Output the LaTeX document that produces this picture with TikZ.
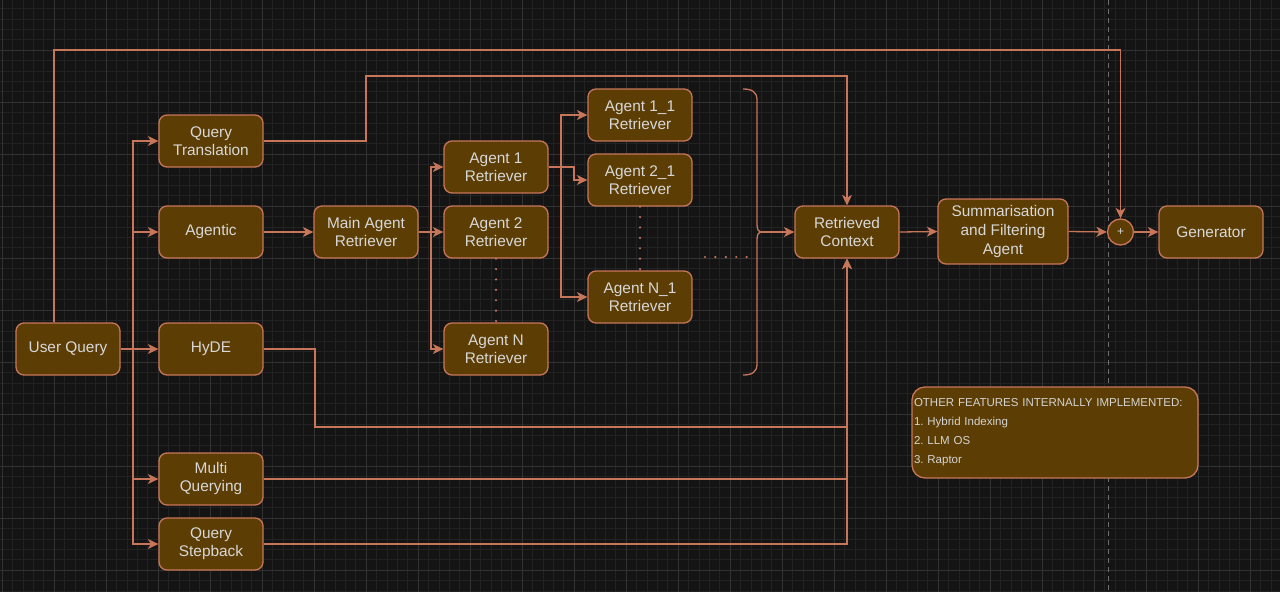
\documentclass[tikz,border=0pt]{standalone}
\usepackage{fontspec}
\setmainfont{Liberation Sans}
\usetikzlibrary{arrows.meta}
\definecolor{bg}{HTML}{141414}
\definecolor{gmin}{HTML}{222222}
\definecolor{gmaj}{HTML}{323232}
\definecolor{boxfill}{HTML}{5C3D04}
\definecolor{edge}{HTML}{C8765A}
\definecolor{txt}{HTML}{D8D8D8}
\definecolor{dashc}{HTML}{6E6E6E}
\frenchspacing
\begin{document}
\begin{tikzpicture}[x=1pt,y=-1pt,
  box/.style={draw=edge, fill=boxfill, line width=1.3pt, rounded corners=8pt,
    minimum width=104pt, minimum height=52pt, align=center, text=txt,
    font=\fontsize{15.4}{18}\selectfont, inner sep=0pt},
  conn/.style={draw=edge, line width=1.3pt},
  arr/.style={conn, -{Stealth[length=10.5pt,width=10pt,inset=3pt]}},
  dotline/.style={draw=edge, line width=2.4pt, line cap=round, dash pattern=on 0pt off 10.4pt},
  mingrid/.style={draw=gmin, line width=0.6pt},
  majgrid/.style={draw=gmaj, line width=0.8pt},
]
\useasboundingbox (0,0) rectangle (1280,592);
\fill[bg] (0,0) rectangle (1280,592);
% grid
\foreach \i in {0,...,122} {\draw[mingrid] ({2+10.4*\i},0) -- ({2+10.4*\i},592);}
\foreach \i in {1,...,57} {\draw[mingrid] (0,{-2+10.4*\i}) -- (1280,{-2+10.4*\i});}
\foreach \i in {0,...,24} {\draw[majgrid] ({2+52*\i},0) -- ({2+52*\i},592);}
\foreach \i in {1,...,11} {\draw[majgrid] (0,{-2+52*\i}) -- (1280,{-2+52*\i});}
% dashed vertical guide
\draw[dashc, line width=1pt, dash pattern=on 5pt off 4pt] (1108,0) -- (1108,592);

% nodes
\node[box] (uq) at (68,349) {User Query};
\node[box] (qt) at (211,141) {Query\\Translation};
\node[box] (ag) at (211,232) {Agentic};
\node[box] (hyde) at (211,349) {HyDE};
\node[box] (mq) at (211,479) {Multi\\Querying};
\node[box] (qs) at (211,544) {Query\\Stepback};
\node[box] (mar) at (366,232) {Main Agent\\Retriever};
\node[box] (a1) at (496,167) {Agent 1\\Retriever};
\node[box] (a2) at (496,232) {Agent 2\\Retriever};
\node[box] (an) at (496,349) {Agent N\\Retriever};
\node[box] (a11) at (640,115) {Agent 1\_1\\Retriever};
\node[box] (a21) at (640,180) {Agent 2\_1\\Retriever};
\node[box] (an1) at (640,297) {Agent N\_1\\Retriever};
\node[box] (rc) at (847,232) {Retrieved\\Context};
\node[box, minimum width=130pt, minimum height=65pt, font=\fontsize{15.4}{19}\selectfont] (sum) at (1003,231.5) {Summarisation\\and Filtering\\Agent};
\node[circle, draw=edge, fill=boxfill, line width=1.3pt, minimum size=26pt, inner sep=0pt, text=txt, font=\fontsize{12}{12}\selectfont] (plus) at (1120.5,232) {+};
\node[box] (gen) at (1211,232) {Generator};
\node[box, minimum width=286pt, minimum height=91pt, rounded corners=13pt, align=left,
  text width=282pt, font=\fontsize{11.5}{19}\selectfont, text=txt!95!gray] (feat) at (1055,432.5)
  {OTHER FEATURES INTERNALLY IMPLEMENTED:\\1. Hybrid Indexing\\2. LLM OS\\3. Raptor};

% brace
\coordinate (bt) at (762,232);
\draw[conn] (743,89) .. controls (752,89) and (757,92) .. (757,100) -- (757,224)
  .. controls (757,229) and (758,232) .. (bt)
  .. controls (758,232) and (757,235) .. (757,240) -- (757,364)
  .. controls (757,372) and (752,375) .. (743,375);
\draw[arr] (bt) -- (rc.west);

% connectors from user query
\draw[arr] ([xshift=-14pt]uq.north) -- (54,50) -| (plus.north);
\draw[arr] (uq.east) -- (133,349) |- (qt.west);
\draw[arr] (uq.east) -- (133,349) |- (ag.west);
\draw[arr] (uq.east) -- (hyde.west);
\draw[arr] (uq.east) -- (133,349) |- (mq.west);
\draw[arr] (uq.east) -- (133,349) |- (qs.west);

% query transforms to retrieved context
\draw[arr] (qt.east) -- (366,141) -- (366,76) -| (rc.north);
\draw[arr] (ag.east) -- (mar.west);
\draw[arr] (hyde.east) -- (315,349) -- (315,427) -| (rc.south);
\draw[conn] (mq.east) -- (rc.south |- mq.east);
\draw[arr] (qs.east) -| (rc.south);

% agent tree
\draw[arr] (mar.east) -- (431,232) |- (a1.west);
\draw[arr] (mar.east) -- (a2.west);
\draw[arr] (mar.east) -- (431,232) |- (an.west);
\draw[arr] (a1.east) -- (561,167) |- (a11.west);
\draw[arr] (a1.east) -- (574,167) |- (a21.west);
\draw[arr] (a1.east) -- (561,167) |- (an1.west);

% dotted continuations
\draw[dotline] (a2.south) -- (an.north);
\draw[dotline] (a21.south) -- (an1.north);
\coordinate (hd1) at (705,257);
\coordinate (hd2) at (747,257);
\draw[dotline] (hd1) -- (hd2);

% right chain
\draw[arr] (rc.east) -- (sum.west);
\draw[arr] (sum.east) -- (plus.west);
\draw[arr] (plus.east) -- (gen.west);
\end{tikzpicture}
\end{document}
